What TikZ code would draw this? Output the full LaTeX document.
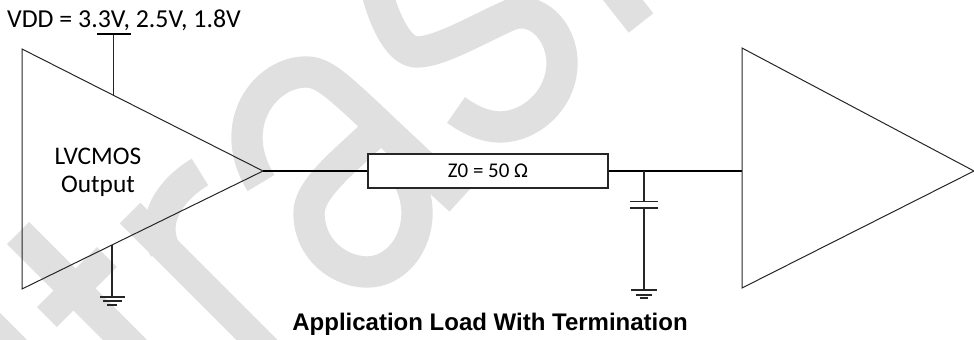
\documentclass[tikz,border=0pt]{standalone}
\usepackage{fontspec}
\setmainfont{Carlito}
\newfontfamily\titlefont{Liberation Sans}
\usetikzlibrary{positioning}

\begin{document}
\begin{tikzpicture}[x=0.75pt,y=-0.75pt,
    mark stroke/.style={draw=black!12,line width=23.5pt},
    amp/.style={draw=black!85,line width=0.75pt,line join=miter},
    wire/.style={draw=black,line width=1.1pt},
    thin wire/.style={draw=black!85,line width=0.8pt},
    every node/.style={inner sep=0pt}]
  \useasboundingbox (0,0) rectangle (974,339);

  % letters behind the drawing
  \draw[mark stroke] (-11,324)--(30,365);
  \draw[mark stroke] (18,233)--(163,378);
  \draw[mark stroke,line width=21pt] (47,317)--(107,257);
  \draw[mark stroke,line width=22pt] (130,213)--(300,383);
  \draw[mark stroke] (165,250) .. controls (150,220) and (170,190) .. (200,172);
  \draw[mark stroke] (261,183) .. controls (225,125) and (265,72) .. (306,72)
    .. controls (330,72) and (345,95) .. (460,200);
  \draw[mark stroke] (372,135) .. controls (340,165) and (309,190) .. (309,213)
    .. controls (309,250) and (340,272) .. (367,272)
    .. controls (395,272) and (417,245) .. (417,213) .. controls (417,190) and (405,170) .. (395,160);
  \draw[mark stroke] (375,-15) .. controls (385,25) and (400,52) .. (417,52)
    .. controls (440,52) and (480,28) .. (510,15)
    .. controls (535,5) and (562,30) .. (562,63)
    .. controls (562,100) and (530,127) .. (500,127)
    .. controls (485,127) and (470,120) .. (456,110);
  \draw[mark stroke] (615,-10)--(641,23);

  % driver
  \coordinate (a1) at (22,49);
  \coordinate (a2) at (22,289);
  \coordinate (aout) at (263,171);
  \draw[amp] (a1)--(a2)--(aout)--cycle;
  \node (lv) at (98,156) {\fontsize{19pt}{22pt}\selectfont LVCMOS};
  \node (out) at (98,186) {\fontsize{19pt}{22pt}\selectfont Output};

  % supply
  \node (vdd) at (124,20) {\fontsize{19.4pt}{22pt}\selectfont VDD = 3.3V, 2.5V, 1.8V};
  \coordinate (vt) at (113.5,34);
  \coordinate (vb) at (113.5,95);
  \coordinate (vl) at (97,34);
  \coordinate (vr) at (131,34);
  \draw[thin wire] (vt)--(vb);
  \draw[wire] (vl)--(vr);

  % ground of driver
  \coordinate (g1) at (112,245);
  \coordinate (g2) at (112,297);
  \draw[thin wire] (g1)--(g2);
  \draw[thin wire] (100,297)--(125,297);
  \draw[thin wire] (103,301)--(122,301);
  \draw[thin wire] (107,305)--(117,305);

  % line
  \node[fill=white,draw=black!85,line width=0.8pt,minimum width=180pt,minimum height=25.5pt] (z0) at (488,171) {\fontsize{15.7pt}{18pt}\selectfont Z0 = 50 Ω};
  \coordinate (bin) at (742,171);
  \coordinate (tap) at (644,171);
  \draw[wire] (aout)--(z0.west);
  \draw[wire] (z0.east)--(bin);

  % capacitor
  \coordinate (c1) at (644,201.5);
  \coordinate (c2) at (644,208);
  \coordinate (c3) at (644,290);
  \draw[thin wire] (tap)--(c1);
  \draw[thin wire] (c2)--(c3);
  \draw[thin wire] (630,201.5)--(658,201.5);
  \draw[thin wire] (630,208)--(658,208);
  \draw[thin wire] (631,290)--(657,290);
  \draw[thin wire] (636,295)--(652,295);
  \draw[thin wire] (640,298)--(648,298);

  % receiver
  \coordinate (b1) at (742,48);
  \coordinate (b2) at (742,288);
  \coordinate (bout) at (974,171);
  \draw[amp] (b1)--(b2)--(bout)--cycle;

  \node (cap) at (490,324.5) {\titlefont\bfseries\fontsize{18pt}{21pt}\selectfont Application Load With Termination};
\end{tikzpicture}
\end{document}
